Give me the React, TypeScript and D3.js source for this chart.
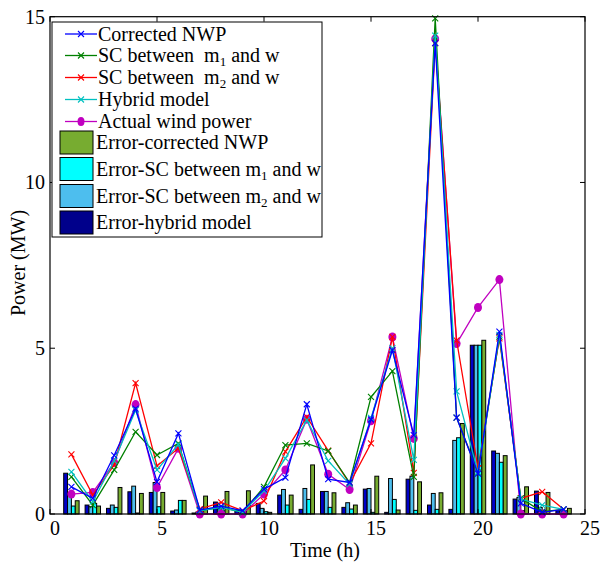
import React from 'react';
import * as d3 from 'd3';

const hours = [1, 2, 3, 4, 5, 6, 7, 8, 9, 10, 11, 12, 13, 14, 15, 16, 17, 18, 19, 20, 21, 22, 23, 24];

// line series
const actualPower = [0.6, 0.65, 1.55, 3.3, 0.8, 1.98, 0, 0, 0, 0.6, 1.33, 2.86, 1.2, 0.74, 2.81, 5.34, 2.28, 14.33, 5.14, 6.23, 7.07, 0, 0, 0];
const correctedNWP = [0.82, 0.47, 1.77, 3.18, 0.97, 2.43, 0.12, 0.24, 0.1, 0.75, 1.1, 3.31, 1.05, 0.95, 2.85, 4.94, 2.38, 14.2, 2.91, 1.22, 5.5, 0.32, 0.05, 0.14];
const scM1 = [1.12, 0.27, 1.33, 2.48, 1.78, 2.13, 0.1, 0.2, 0.05, 0.82, 2.08, 2.13, 1.9, 0.95, 3.53, 4.31, 1.12, 14.95, 2.91, 1.25, 5.35, 0.47, 0.07, 0.14];
const scM2 = [1.8, 0.57, 1.48, 3.95, 1.45, 1.98, 0.15, 0.35, 0.1, 0.39, 1.88, 2.93, 1.91, 0.92, 2.13, 5.34, 1.24, 14.2, 5.24, 1.38, 5.3, 0.47, 0.67, 0.14];
const hybrid = [1.27, 0.37, 1.6, 3.13, 1.33, 2.1, 0.1, 0.2, 0.05, 0.7, 1.68, 2.83, 1.6, 0.9, 2.9, 5.0, 1.63, 14.43, 3.7, 1.25, 5.4, 0.45, 0.27, 0.14];

// error bars (left to right in each group)
const errHybrid = [1.23, 0.27, 0.17, 0.67, 0.65, 0.09, 0.03, 0.36, 0.12, 0.32, 0.57, 0.14, 0.68, 0.2, 0.75, 0.05, 1.05, 0.27, 0.14, 5.09, 1.9, 0.45, 0.69, 0.1];
const errM2 = [0.57, 0.22, 0.27, 0.84, 0.95, 0.12, 0.06, 0.2, 0.1, 0.17, 0.74, 0.77, 0.68, 0.34, 0.77, 1.07, 1.14, 0.62, 2.22, 5.09, 1.83, 0.5, 0.2, 0.1];
const errM1 = [0.24, 0.32, 0.2, 0.03, 0.22, 0.41, 0.02, 0.1, 0.05, 0.07, 0.27, 0.44, 0.2, 0.15, 0.05, 0.44, 0.11, 0.14, 2.3, 5.09, 1.56, 0.1, 0.1, 0.1];
const errNWP = [0.4, 0.24, 0.8, 0.62, 0.65, 0.41, 0.54, 0.68, 0.7, 0.05, 0.57, 1.48, 0.64, 0.27, 1.14, 0.12, 0.97, 0.64, 2.73, 5.24, 1.76, 0.82, 0.65, 0.17];

const xTicks = [0, 5, 10, 15, 20, 25];
const yTicks = [0, 5, 10, 15];

const FONT = "'Liberation Serif', 'Times New Roman', serif";
const FS = 20;

const W = 601, H = 566;
const L = 50, R = 585, T = 16.7, B = 514;

export default function App() {
  const x = d3.scaleLinear().domain([0, 25]).range([L, R]);
  const y = d3.scaleLinear().domain([0, 15]).range([B, T]);

  const barSeries = [
    { key: 'hybrid', data: errHybrid, color: '#0000C8' },
    { key: 'm2', data: errM2, color: '#4DBEEE' },
    { key: 'm1', data: errM1, color: '#00FFFF' },
    { key: 'nwp', data: errNWP, color: '#77AC30' },
  ];
  const inner = d3.scaleBand<string>().domain(barSeries.map(s => s.key)).range([-0.36, 0.36]).padding(0);
  const bw = x(inner.bandwidth()) - x(0);

  const lineSeries = [
    { key: 'actual', data: actualPower, color: '#C000C0', marker: 'dot' },
    { key: 'm2', data: scM2, color: '#FF0000', marker: 'x' },
    { key: 'm1', data: scM1, color: '#008000', marker: 'x' },
    { key: 'hybrid', data: hybrid, color: '#00C0C0', marker: 'x' },
    { key: 'nwp', data: correctedNWP, color: '#0000FF', marker: 'x' },
  ];

  const line = d3.line<number>().x((_, i) => x(hours[i])).y(d => y(d));
  const xPath = 'M-3,-3L3,3M-3,3L3,-3';

  const legendLines = [
    { label: ['Corrected NWP'], color: '#0000FF', marker: 'x' },
    { label: ['SC between  m', '1', ' and w'], color: '#008000', marker: 'x' },
    { label: ['SC between  m', '2', ' and w'], color: '#FF0000', marker: 'x' },
    { label: ['Hybrid model'], color: '#00C0C0', marker: 'x' },
    { label: ['Actual wind power'], color: '#C000C0', marker: 'dot' },
  ];
  const legendLineY = [34, 55.5, 77.5, 99.5, 121.5];
  const legendPatches = [
    { label: ['Error-corrected NWP'], color: '#77AC30' },
    { label: ['Error-SC between m', '1', ' and w'], color: '#00FFFF' },
    { label: ['Error-SC between m', '2', ' and w'], color: '#4DBEEE' },
    { label: ['Error-hybrid model'], color: '#00008B' },
  ];
  const legendPatchY = [142.5, 169, 196, 222.5];

  const renderLabel = (parts: string[]) => {
    if (parts.length === 1) return parts[0];
    return [
      <tspan key="a">{parts[0]}</tspan>,
      <tspan key="b" fontSize={13} dy={4}>{parts[1]}</tspan>,
      <tspan key="c" dy={-4}>{parts[2]}</tspan>,
    ];
  };

  return (
    <svg width={W} height={H} style={{ position: 'absolute', left: 0, top: 0, background: '#fff' }} fontFamily={FONT}>
      <rect x={0} y={0} width={W} height={H} fill="#fff" />
      {/* bars */}
      <g>
        {barSeries.map(s => (
          <g key={s.key}>
            {s.data.map((v, i) => (
              <rect
                key={i}
                x={x(hours[i] + (inner(s.key) as number))}
                y={y(v)}
                width={bw}
                height={y(0) - y(v)}
                fill={s.color}
                stroke="#000"
                strokeWidth={1}
              />
            ))}
          </g>
        ))}
      </g>
      {/* lines */}
      <g>
        {lineSeries.map(s => (
          <g key={s.key}>
            <path d={line(s.data) || ''} fill="none" stroke={s.color} strokeWidth={1.3} />
            {s.data.map((v, i) =>
              s.marker === 'dot' ? (
                <ellipse key={i} cx={x(hours[i])} cy={y(v)} rx={4} ry={4.5} fill={s.color} />
              ) : (
                <path key={i} d={xPath} transform={`translate(${x(hours[i])},${y(v)})`} stroke={s.color} strokeWidth={1.1} fill="none" />
              )
            )}
          </g>
        ))}
      </g>
      {/* axes box */}
      <rect x={L} y={T} width={R - L} height={B - T} fill="none" stroke="#000" strokeWidth={1.2} />
      {xTicks.map(t => (
        <g key={'xt' + t}>
          <line x1={x(t)} x2={x(t)} y1={B} y2={B - 5} stroke="#000" />
          <line x1={x(t)} x2={x(t)} y1={T} y2={T + 5} stroke="#000" />
          <text x={x(t) + 5} y={535} textAnchor="middle" fontSize={FS}>{t}</text>
        </g>
      ))}
      {yTicks.map(t => (
        <g key={'yt' + t}>
          <line x1={L} x2={L + 5} y1={y(t)} y2={y(t)} stroke="#000" />
          <line x1={R} x2={R - 5} y1={y(t)} y2={y(t)} stroke="#000" />
          <text x={45} y={y(t) + 7} textAnchor="end" fontSize={FS}>{t}</text>
        </g>
      ))}
      <text x={325} y={557} textAnchor="middle" fontSize={FS}>Time (h)</text>
      <text transform="translate(25,263) rotate(-90)" textAnchor="middle" fontSize={FS}>Power (MW)</text>
      {/* legend */}
      <g>
        <rect x={52} y={22} width={270} height={215} fill="#fff" stroke="#000" strokeWidth={1} />
        {legendLines.map((e, i) => (
          <g key={'ll' + i}>
            <line x1={65} x2={97} y1={legendLineY[i]} y2={legendLineY[i]} stroke={e.color} strokeWidth={1.3} />
            {e.marker === 'dot' ? (
              <ellipse cx={81} cy={legendLineY[i]} rx={3.5} ry={4.5} fill={e.color} />
            ) : (
              <path d={xPath} transform={`translate(81,${legendLineY[i]})`} stroke={e.color} strokeWidth={1.1} fill="none" />
            )}
            <text x={98} y={legendLineY[i] + 6.5} fontSize={FS} style={{ whiteSpace: 'pre' }}>{renderLabel(e.label)}</text>
          </g>
        ))}
        {legendPatches.map((e, i) => (
          <g key={'lp' + i}>
            <rect x={60} y={legendPatchY[i] - 11.5} width={33} height={23} fill={e.color} stroke="#000" strokeWidth={1} />
            <text x={96} y={legendPatchY[i] + 6.5} fontSize={FS} style={{ whiteSpace: 'pre' }}>{renderLabel(e.label)}</text>
          </g>
        ))}
      </g>
    </svg>
  );
}
